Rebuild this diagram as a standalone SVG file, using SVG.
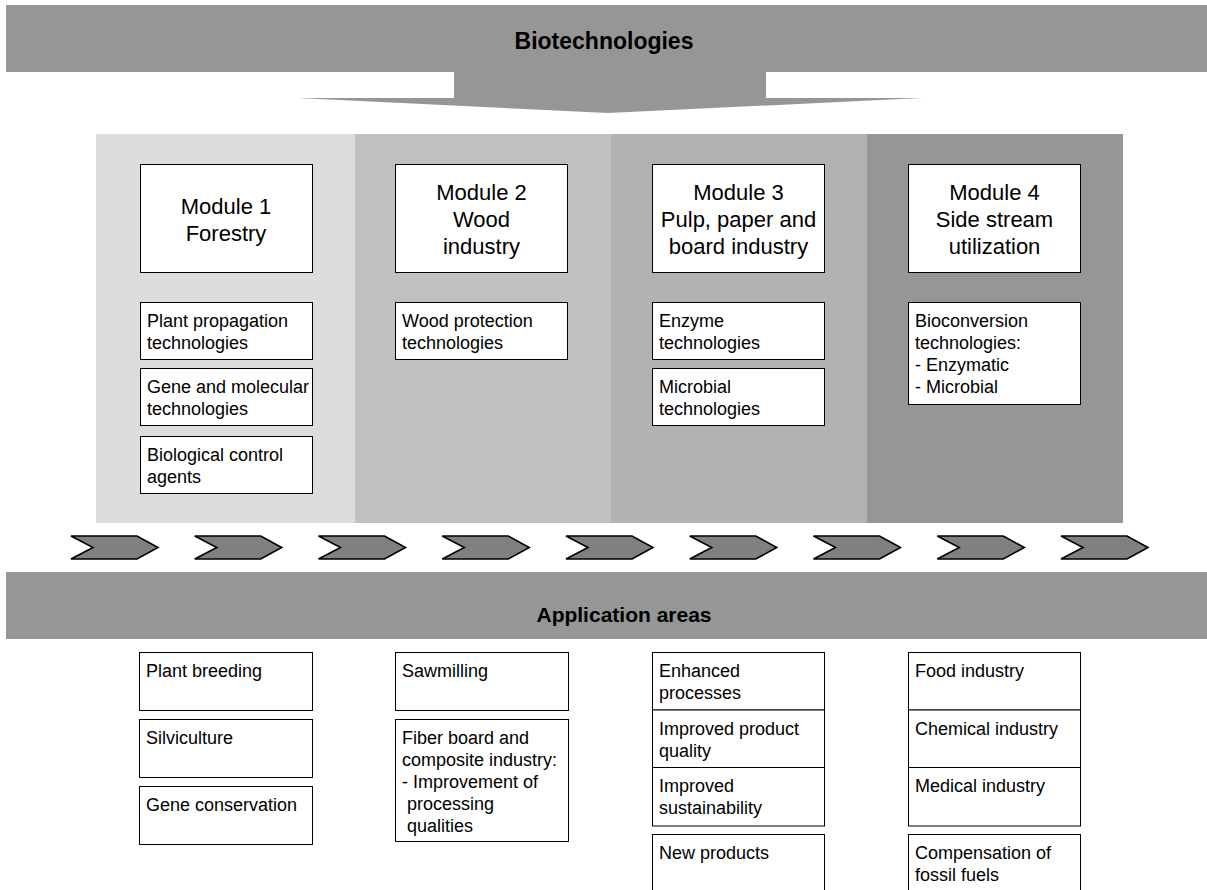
<svg xmlns="http://www.w3.org/2000/svg" width="1207" height="890" viewBox="0 0 1207 890">
<style>
text{font-family:"Liberation Sans",Arial,sans-serif;fill:#000}
.band{fill:#969696}
.head{font-size:21px;font-weight:bold;text-anchor:middle}
.mod{font-size:22px;text-anchor:middle}
.box{fill:#fff;stroke:#000;stroke-width:1}
.sm{font-size:18px}
.chev{fill:#808080;stroke:#000;stroke-width:1.6;stroke-linejoin:miter}
</style>
<defs>
<path id="chevron" class="chev" d="M0,0 L66,0 L87,11.5 L66,23 L0,23 L22,11.5 Z"/>
</defs>
<rect width="1207" height="890" fill="#fff"/>

<g id="biotechnologies">
<path class="band" d="M6,5 H1207 V72 H766 V98 H922 L608,113 L298,98 H454 V72 H6 Z"/>
<text class="head" x="604" y="49" style="font-size:23px">Biotechnologies</text>
</g>

<g id="columns">
<rect x="96" y="134" width="259" height="389" fill="#dddddd"/>
<rect x="355" y="134" width="256" height="389" fill="#c0c0c0"/>
<rect x="611" y="134" width="256" height="389" fill="#b2b2b2"/>
<rect x="867" y="134" width="256" height="389" fill="#969696"/>
</g>

<g id="module1">
<rect class="box" x="140.5" y="164.5" width="172" height="108"/>
<text class="mod" x="226" y="214">Module 1</text>
<text class="mod" x="226" y="241">Forestry</text>
</g>
<g id="module2">
<rect class="box" x="395.5" y="164.5" width="172" height="108"/>
<text class="mod" x="481.5" y="200">Module 2</text>
<text class="mod" x="481.5" y="227">Wood</text>
<text class="mod" x="481.5" y="254">industry</text>
</g>
<g id="module3">
<rect class="box" x="652.5" y="164.5" width="172" height="108"/>
<text class="mod" x="738.5" y="200">Module 3</text>
<text class="mod" x="738.5" y="227">Pulp, paper and</text>
<text class="mod" x="738.5" y="254">board industry</text>
</g>
<g id="module4">
<rect class="box" x="908.5" y="164.5" width="172" height="108"/>
<text class="mod" x="994.5" y="200">Module 4</text>
<text class="mod" x="994.5" y="227">Side stream</text>
<text class="mod" x="994.5" y="254">utilization</text>
</g>

<g id="plant-propagation">
<rect class="box" x="140.5" y="302.5" width="172" height="57"/>
<text class="sm" x="147" y="327">Plant propagation</text>
<text class="sm" x="147" y="349">technologies</text>
</g>
<g id="gene-molecular">
<rect class="box" x="140.5" y="368.5" width="172" height="57"/>
<text class="sm" x="147" y="393">Gene and molecular</text>
<text class="sm" x="147" y="415">technologies</text>
</g>
<g id="biological-control">
<rect class="box" x="140.5" y="436.5" width="172" height="57"/>
<text class="sm" x="147" y="461">Biological control</text>
<text class="sm" x="147" y="483">agents</text>
</g>
<g id="wood-protection">
<rect class="box" x="395.5" y="302.5" width="172" height="57"/>
<text class="sm" x="402" y="327">Wood protection</text>
<text class="sm" x="402" y="349">technologies</text>
</g>
<g id="enzyme">
<rect class="box" x="652.5" y="302.5" width="172" height="57"/>
<text class="sm" x="659" y="327">Enzyme</text>
<text class="sm" x="659" y="349">technologies</text>
</g>
<g id="microbial">
<rect class="box" x="652.5" y="368.5" width="172" height="57"/>
<text class="sm" x="659" y="393">Microbial</text>
<text class="sm" x="659" y="415">technologies</text>
</g>
<g id="bioconversion">
<rect class="box" x="908.5" y="302.5" width="172" height="102"/>
<text class="sm" x="915" y="327">Bioconversion</text>
<text class="sm" x="915" y="349">technologies:</text>
<text class="sm" x="915" y="371">- Enzymatic</text>
<text class="sm" x="915" y="393">- Microbial</text>
</g>

<g id="connectors">
<use href="#chevron" x="71" y="536"/>
<use href="#chevron" x="194.75" y="536"/>
<use href="#chevron" x="318.5" y="536"/>
<use href="#chevron" x="442.25" y="536"/>
<use href="#chevron" x="566" y="536"/>
<use href="#chevron" x="689.75" y="536"/>
<use href="#chevron" x="813.5" y="536"/>
<use href="#chevron" x="937.25" y="536"/>
<use href="#chevron" x="1061" y="536"/>
</g>

<g id="application-areas">
<rect class="band" x="6" y="572" width="1201" height="67"/>
<text class="head" x="624" y="622">Application areas</text>
</g>

<g id="plant-breeding">
<rect class="box" x="139.5" y="652.5" width="173" height="58"/>
<text class="sm" x="146" y="677">Plant breeding</text>
</g>
<g id="silviculture">
<rect class="box" x="139.5" y="719.5" width="173" height="58"/>
<text class="sm" x="146" y="744">Silviculture</text>
</g>
<g id="gene-conservation">
<rect class="box" x="139.5" y="786.5" width="173" height="58"/>
<text class="sm" x="146" y="811">Gene conservation</text>
</g>
<g id="sawmilling">
<rect class="box" x="395.5" y="652.5" width="173" height="58"/>
<text class="sm" x="402" y="677">Sawmilling</text>
</g>
<g id="fiber-board">
<rect class="box" x="395.5" y="719.5" width="173" height="122"/>
<text class="sm" x="402" y="744">Fiber board and</text>
<text class="sm" x="402" y="766">composite industry:</text>
<text class="sm" x="402" y="788">- Improvement of</text>
<text class="sm" x="407" y="810">processing</text>
<text class="sm" x="407" y="832">qualities</text>
</g>
<g id="enhanced-processes">
<rect class="box" x="652.5" y="652.5" width="172" height="57.5"/>
<text class="sm" x="659" y="677">Enhanced</text>
<text class="sm" x="659" y="699">processes</text>
</g>
<g id="improved-quality">
<rect class="box" x="652.5" y="710" width="172" height="57.5"/>
<text class="sm" x="659" y="735">Improved product</text>
<text class="sm" x="659" y="757">quality</text>
</g>
<g id="improved-sustainability">
<rect class="box" x="652.5" y="767.5" width="172" height="58.5"/>
<text class="sm" x="659" y="792">Improved</text>
<text class="sm" x="659" y="814">sustainability</text>
</g>
<g id="new-products">
<rect class="box" x="652.5" y="834.5" width="172" height="70"/>
<text class="sm" x="659" y="859">New products</text>
</g>
<g id="food-industry">
<rect class="box" x="908.5" y="652.5" width="172" height="57.5"/>
<text class="sm" x="915" y="677">Food industry</text>
</g>
<g id="chemical-industry">
<rect class="box" x="908.5" y="710" width="172" height="57.5"/>
<text class="sm" x="915" y="735">Chemical industry</text>
</g>
<g id="medical-industry">
<rect class="box" x="908.5" y="767.5" width="172" height="58.5"/>
<text class="sm" x="915" y="792">Medical industry</text>
</g>
<g id="compensation">
<rect class="box" x="908.5" y="834.5" width="172" height="70"/>
<text class="sm" x="915" y="859">Compensation of</text>
<text class="sm" x="915" y="881">fossil fuels</text>
</g>
</svg>
